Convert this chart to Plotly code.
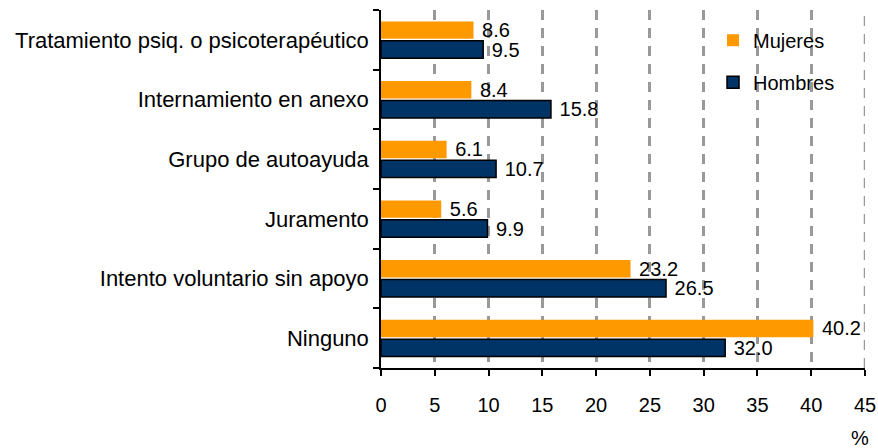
import plotly.graph_objects as go

categorias = [
    "Ninguno",
    "Intento voluntario sin apoyo",
    "Juramento",
    "Grupo de autoayuda",
    "Internamiento en anexo",
    "Tratamiento psiq. o psicoterapéutico",
]
mujeres = [40.2, 23.2, 5.6, 6.1, 8.4, 8.6]
hombres = [32.0, 26.5, 9.9, 10.7, 15.8, 9.5]
ticks_x = [0, 5, 10, 15, 20, 25, 30, 35, 40, 45]

fuente = "Liberation Sans, Arial, sans-serif"
etiqueta = "\u00a0%{x:.1f}"

fig = go.Figure()
fig.add_trace(go.Bar(
    y=categorias, x=hombres, orientation="h", name="Hombres",
    legendgroup="h", legendrank=2,
    marker=dict(color="#003366", line=dict(color="#000000", width=1.5)),
    texttemplate=etiqueta, textposition="outside", constraintext="none",
    textfont=dict(size=20, color="#000000"), cliponaxis=False,
))
fig.add_trace(go.Bar(
    y=categorias, x=mujeres, orientation="h", name="Mujeres",
    legendgroup="m", legendrank=1,
    marker=dict(color="#FF9900", line=dict(color="#FF9900", width=0)),
    texttemplate=etiqueta, textposition="outside", constraintext="none",
    textfont=dict(size=20, color="#000000"), cliponaxis=False,
))

# la última línea de cuadrícula (45) no la dibuja plotly en el borde
fig.add_shape(
    type="line", xref="x", yref="paper",
    x0=ticks_x[-1], x1=ticks_x[-1], y0=0, y1=1,
    line=dict(color="#999999", width=2.5, dash="10px,8px"),
    layer="below",
)

fig.update_layout(
    width=878, height=448,
    margin=dict(l=381, r=13, t=10, b=80, autoexpand=False),
    paper_bgcolor="white", plot_bgcolor="white",
    font=dict(family=fuente, size=20, color="#000000"),
    barmode="group", bargap=0.35, bargroupgap=0.1,
    showlegend=True,
    legend=dict(
        x=0.686, y=0.97, xanchor="left", yanchor="top",
        traceorder="grouped", tracegroupgap=13,
        font=dict(size=20), bgcolor="rgba(0,0,0,0)",
    ),
    xaxis=dict(
        range=[0, 45], tickvals=ticks_x, ticks="outside", ticklen=6,
        tickcolor="#000000", tickwidth=1.5,
        showline=True, linecolor="#000000", linewidth=1.5,
        showgrid=True, gridcolor="#999999", gridwidth=2.5,
        griddash="10px,8px", zeroline=False,
        ticklabelstandoff=12, automargin=False,
        tickfont=dict(size=20),
    ),
    yaxis=dict(
        ticks="outside", tickson="boundaries", ticklen=6,
        tickcolor="#000000", tickwidth=1.5,
        showline=True, linecolor="#000000", linewidth=1.5,
        showgrid=False, automargin=False, ticklabelstandoff=6,
        tickfont=dict(size=22),
    ),
    annotations=[dict(
        text="%", xref="paper", yref="paper", x=0.99, y=-0.196,
        xanchor="center", yanchor="middle", showarrow=False,
        font=dict(size=20),
    )],
)

# la página trae un margen de 8px en el body; se quita para que la figura quepa
fig.write_html("out.html", config={"displayModeBar": False},
               post_script="document.body.style.margin='0';")
